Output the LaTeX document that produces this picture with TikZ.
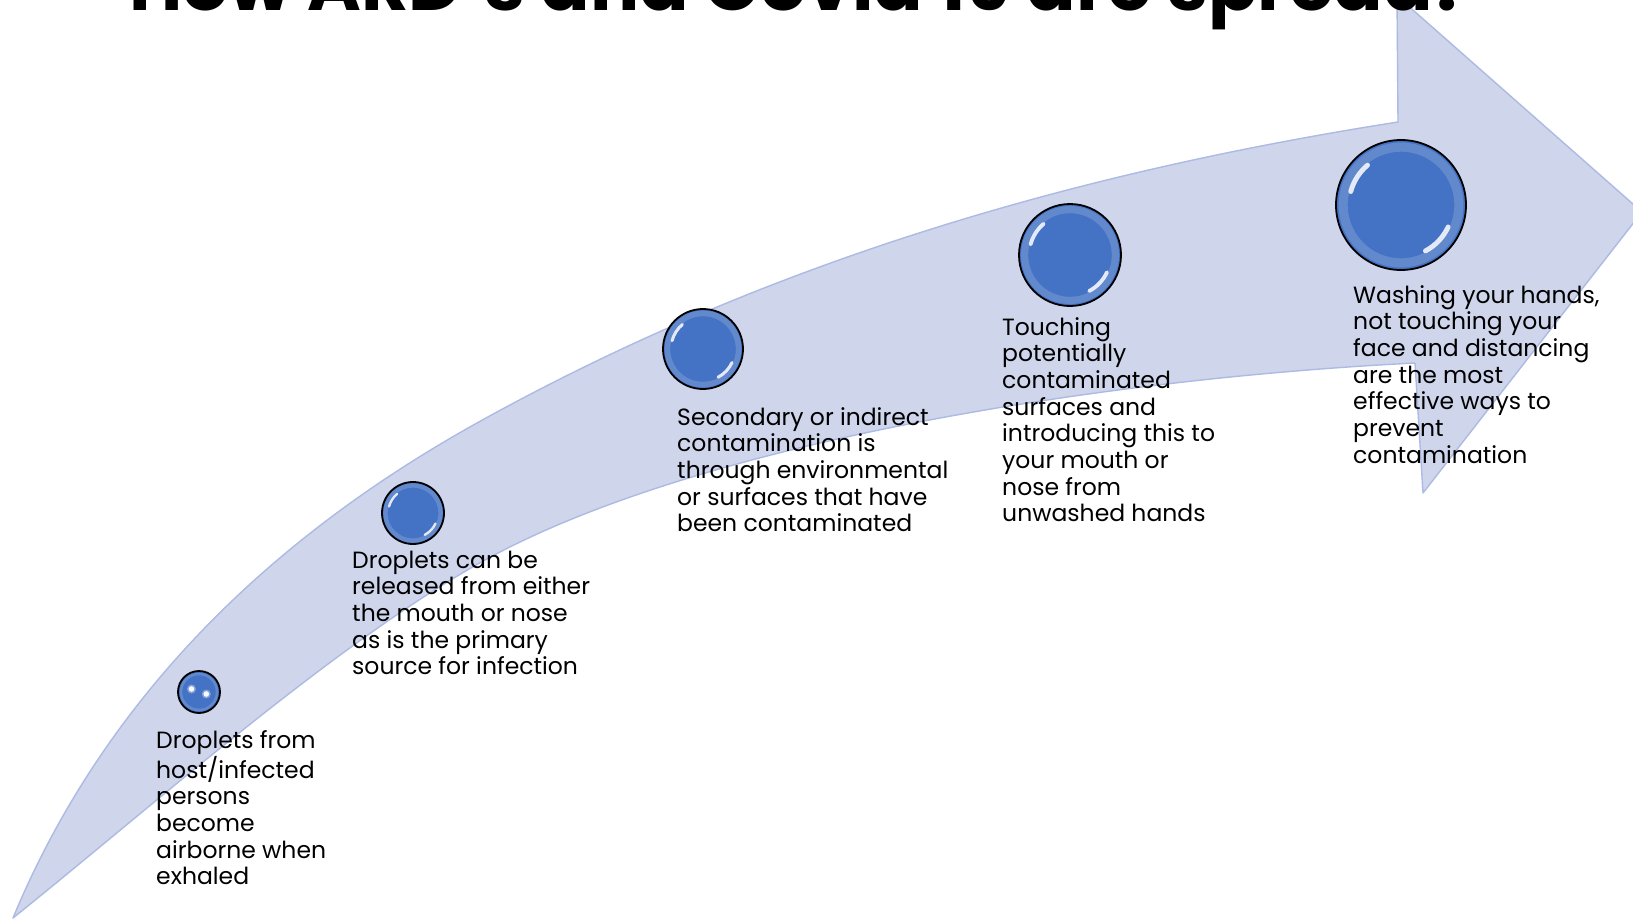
\documentclass[tikz,border=0pt]{standalone}
\usepackage{fontspec}
\setmainfont{Poppins}
\usepackage{graphicx}
\definecolor{band}{RGB}{207,213,235}
\definecolor{bandedge}{RGB}{172,186,228}
\definecolor{bubblue}{RGB}{68,114,196}
\begin{document}
\begin{tikzpicture}[x=1pt,y=1pt,
  bubble/.style={circle, draw=black, line width=1.8pt, fill=bubblue, inner sep=0pt},
  gloss/.style={white, line cap=round, opacity=0.85},
  rim/.style={white, opacity=0.17},
  txt/.style={anchor=base west, inner sep=0pt, font=\fontsize{23.5}{26.7}\selectfont},
  ttl/.style={anchor=base west, inner sep=0pt, font=\fontsize{62}{70}\selectfont\bfseries}]
\useasboundingbox (0,0) rectangle (1633,-923);
\fill[white] (0,0) rectangle (1633,-923);
% curved arrow
\path[fill=band, draw=bandedge, line width=1.4pt, line join=round]
  (13,-918) .. controls (120,-660) and (320,-509) .. (486,-418)
            .. controls (786,-253) and (1098,-169) .. (1398,-122)
  -- (1397,4) -- (1642,-212) -- (1423,-493) -- (1415,-363)
  .. controls (1115,-378) and (720,-438) .. (500,-552)
  .. controls (350,-630) and (160,-800) .. (13,-918)
  -- cycle;
% bubbles
\node[bubble, minimum size=42pt] (c1) at (199,-692) {};
\draw[rim, line width=2.5pt] (c1.center) circle[radius=18pt];
\fill[white, opacity=0.35] (c1.center) ++(-7.5,3) circle[radius=4.5pt];
\fill[white, opacity=0.35] (c1.center) ++(7.3,-2) circle[radius=4.5pt];
\fill[white, opacity=0.95] (c1.center) ++(-7.5,3) circle[radius=2.8pt];
\fill[white, opacity=0.95] (c1.center) ++(7.3,-2) circle[radius=2.8pt];
\foreach \n/\x/\y/\r in {c2/413/513/31, c3/703/349/40, c4/1070/255/51, c5/1401/205/65}{
  \node[bubble, minimum size={2*\r*1pt}] (\n) at (\x,-\y) {};
  \draw[rim, line width={0.14*\r*1pt}] (\n.center) circle[radius={0.89*\r*1pt}];
  \draw[gloss, line width={0.075*\r*1pt}] (\n.center) ++(130:{0.8*\r*1pt}) arc[start angle=130, end angle=165, radius={0.8*\r*1pt}];
  \draw[gloss, line width={0.075*\r*1pt}] (\n.center) ++(298:{0.8*\r*1pt}) arc[start angle=298, end angle=335, radius={0.8*\r*1pt}];
}
% texts
\node[txt] (t1) at (156,-748) {\begin{tabular}[t]{@{}l@{}}Droplets from\\host/infected\\persons\\become\\airborne when\\exhaled\end{tabular}};
\node[txt] (t2) at (352,-568) {\begin{tabular}[t]{@{}l@{}}Droplets can be\\released from either\\the mouth or nose\\as is the primary\\source for infection\end{tabular}};
\node[txt] (t3) at (677,-425) {\begin{tabular}[t]{@{}l@{}}Secondary or indirect\\contamination is\\through environmental\\or surfaces that have\\been contaminated\end{tabular}};
\node[txt] (t4) at (1002,-335) {\begin{tabular}[t]{@{}l@{}}Touching\\potentially\\contaminated\\surfaces and\\introducing this to\\your mouth or\\nose from\\unwashed hands\end{tabular}};
\node[txt] (t5) at (1353,-303) {\begin{tabular}[t]{@{}l@{}}Washing your hands,\\not touching your\\face and distancing\\are the most\\effective ways to\\prevent\\contamination\end{tabular}};
% title
\node[ttl] (title) at (129,-11) {\resizebox{1343pt}{!}{How ARD's and Covid 19 are spread?}};
\end{tikzpicture}
\end{document}
